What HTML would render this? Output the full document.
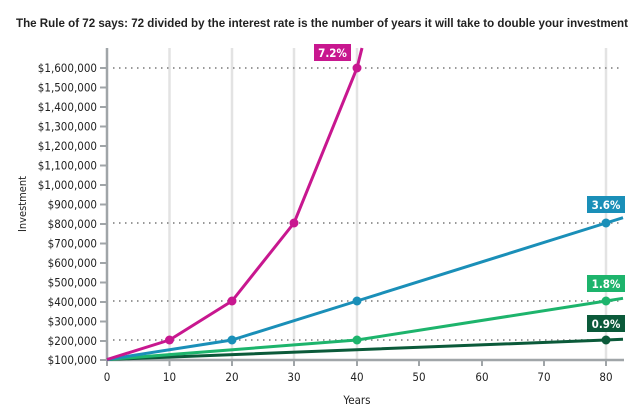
<!DOCTYPE html>
<html><head><style>
body{margin:0;background:#fff;}
svg{display:block;font-family:"DejaVu Sans Condensed","Liberation Sans",sans-serif;}
</style></head><body>
<svg width="642" height="419" xmlns="http://www.w3.org/2000/svg">
<text x="16" y="27" font-size="11.5" font-weight="bold" fill="#222" font-family="Liberation Sans,sans-serif" textLength="612" lengthAdjust="spacingAndGlyphs">The Rule of 72 says: 72 divided by the interest rate is the number of years it will take to double your investment</text>
<g stroke="#e3e3e3" stroke-width="2.5">
<line x1="169.5" y1="48" x2="169.5" y2="359"/><line x1="232" y1="48" x2="232" y2="359"/><line x1="294" y1="48" x2="294" y2="359"/><line x1="357" y1="48" x2="357" y2="359"/><line x1="606" y1="48" x2="606" y2="359"/>
</g>
<g stroke="#999" stroke-width="2" stroke-dasharray="1.5,4.5">
<line x1="113" y1="68" x2="623" y2="68"/><line x1="113" y1="223" x2="623" y2="223"/><line x1="113" y1="301" x2="623" y2="301"/><line x1="113" y1="340" x2="623" y2="340"/>
</g>
<line x1="107" y1="48" x2="107" y2="360" stroke="#a0a5a8" stroke-width="2.5"/>
<line x1="106" y1="360" x2="624" y2="360" stroke="#a0a5a8" stroke-width="2.5"/>
<g stroke="#a0a5a8" stroke-width="2">
<path d="M100 68h6M100 87.5h6M100 107h6M100 126.5h6M100 146h6M100 165.5h6M100 185h6M100 204.5h6M100 224h6M100 243.5h6M100 263h6M100 282.5h6M100 302h6M100 321.5h6M100 341h6M100 360h6"/>
<path d="M107 360v6M169.5 360v6M232 360v6M294 360v6M357 360v6M419 360v6M482 360v6M544 360v6M606 360v6"/>
</g>
<g font-size="11.5" fill="#222" text-anchor="end">
<text x="97" y="72">$1,600,000</text><text x="97" y="91.5">$1,500,000</text><text x="97" y="111">$1,400,000</text><text x="97" y="130.5">$1,300,000</text><text x="97" y="150">$1,200,000</text><text x="97" y="169.5">$1,100,000</text><text x="97" y="189">$1,000,000</text><text x="97" y="208.5">$900,000</text><text x="97" y="228">$800,000</text><text x="97" y="247.5">$700,000</text><text x="97" y="267">$600,000</text><text x="97" y="286.5">$500,000</text><text x="97" y="306">$400,000</text><text x="97" y="325.5">$300,000</text><text x="97" y="345">$200,000</text><text x="97" y="364">$100,000</text>
</g>
<g font-size="11.5" fill="#222" text-anchor="middle">
<text x="107" y="381">0</text><text x="169.5" y="381">10</text><text x="232" y="381">20</text><text x="294" y="381">30</text><text x="357" y="381">40</text><text x="419" y="381">50</text><text x="482" y="381">60</text><text x="544" y="381">70</text><text x="606" y="381">80</text>
<text x="357" y="404">Years</text>
<text transform="translate(26 204) rotate(-90)" font-size="11">Investment</text>
</g>
<g fill="none" stroke-width="3" stroke-linejoin="round">
<polyline stroke="#0b5a3a" points="107,359.5 606,340 623,339.3"/>
<polyline stroke="#1db46c" points="107,359.5 357,340 606,301 623,298.3"/>
<polyline stroke="#1a8fb8" points="107,359.5 232,340 357,301 606,223 623,217.7"/>
<polyline stroke="#c8178f" points="107,359.5 169.5,340 232,301 294,223 357,68 362,48"/>
</g>
<g>
<circle cx="606" cy="340" r="4.5" fill="#0b5a3a"/>
<circle cx="357" cy="340" r="4.5" fill="#1db46c"/><circle cx="606" cy="301" r="4.5" fill="#1db46c"/>
<circle cx="232" cy="340" r="4.5" fill="#1a8fb8"/><circle cx="357" cy="301" r="4.5" fill="#1a8fb8"/><circle cx="606" cy="223" r="4.5" fill="#1a8fb8"/>
<circle cx="169.5" cy="340" r="4.5" fill="#c8178f"/><circle cx="232" cy="301" r="4.5" fill="#c8178f"/><circle cx="294" cy="223" r="4.5" fill="#c8178f"/><circle cx="357" cy="68" r="4.5" fill="#c8178f"/>
</g>
<g font-size="11.5" font-weight="bold" fill="#fff" text-anchor="middle">
<rect x="314" y="44" width="37" height="17" fill="#c8178f"/><text x="332.5" y="57">7.2%</text>
<rect x="587" y="196" width="38" height="17" fill="#1a8fb8"/><text x="606" y="209">3.6%</text>
<rect x="587" y="275" width="38" height="17" fill="#1db46c"/><text x="606" y="288">1.8%</text>
<rect x="587" y="315" width="38" height="17" fill="#0b5a3a"/><text x="606" y="328">0.9%</text>
</g>
</svg>
</body></html>
